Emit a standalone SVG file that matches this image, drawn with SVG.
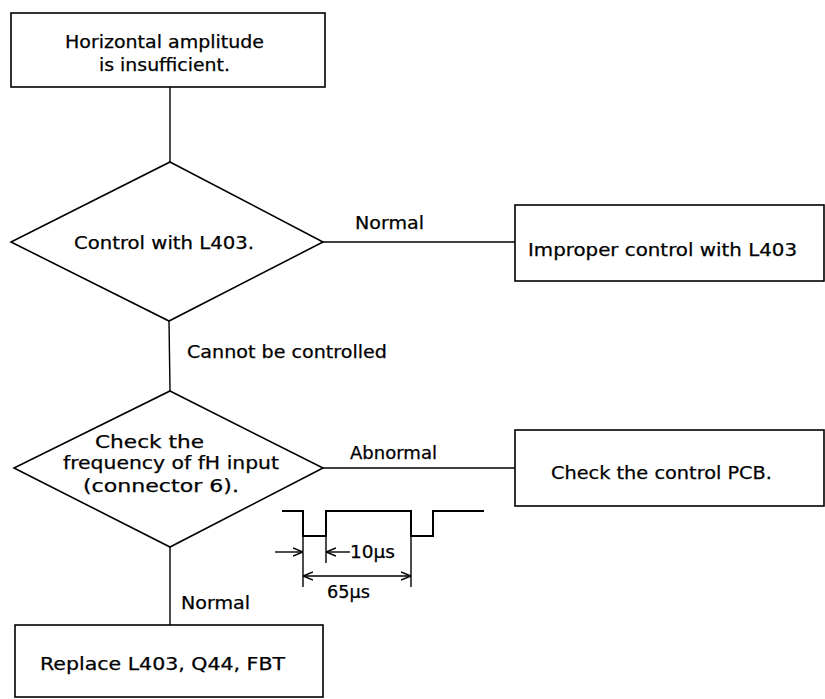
<svg xmlns="http://www.w3.org/2000/svg" width="825" height="699" viewBox="0 0 825 699">
<style>
.shape{fill:#fff;stroke:#000;stroke-width:1.6}
.ln{fill:none;stroke:#000;stroke-width:1.4}
.wv{fill:none;stroke:#000;stroke-width:2}
text{font-family:"DejaVu Sans","Liberation Sans",sans-serif;font-size:17px;fill:#000;stroke:#000;stroke-width:0.25}
</style>
<defs>
<marker id="ah" viewBox="0 0 10 10" refX="10" refY="5" markerWidth="10" markerHeight="10" markerUnits="userSpaceOnUse" orient="auto-start-reverse">
<path d="M0,1 L10,5 L0,9" fill="none" stroke="#000" stroke-width="1.4"/>
</marker>
</defs>
<rect width="825" height="699" fill="#fff"/>
<g id="connectors">
<line class="ln" x1="170" y1="87" x2="170" y2="162"/>
<line class="ln" x1="323" y1="242" x2="515" y2="242"/>
<line class="ln" x1="169" y1="321" x2="170" y2="391"/>
<line class="ln" x1="323" y1="468" x2="515" y2="468"/>
<line class="ln" x1="170" y1="547" x2="170" y2="625"/>
<text x="355" y="229" textLength="69" lengthAdjust="spacingAndGlyphs">Normal</text>
<text x="187" y="358" textLength="200" lengthAdjust="spacingAndGlyphs">Cannot be controlled</text>
<text x="350" y="459" textLength="87" lengthAdjust="spacingAndGlyphs">Abnormal</text>
<text x="181" y="609" textLength="69" lengthAdjust="spacingAndGlyphs">Normal</text>
</g>
<g id="start">
<rect class="shape" x="11" y="13" width="314" height="74"/>
<text x="65" y="48" textLength="199" lengthAdjust="spacingAndGlyphs">Horizontal amplitude</text>
<text x="99" y="71" textLength="131" lengthAdjust="spacingAndGlyphs">is insufficient.</text>
</g>
<g id="d1">
<polygon class="shape" points="170,162 323,242 169,321 11,242"/>
<text x="74" y="249" textLength="180" lengthAdjust="spacingAndGlyphs">Control with L403.</text>
</g>
<g id="improper">
<rect class="shape" x="515" y="205" width="309" height="76"/>
<text x="528" y="256" textLength="269" lengthAdjust="spacingAndGlyphs">Improper control with L403</text>
</g>
<g id="d2">
<polygon class="shape" points="170,391 323,468 170,547 14,468"/>
<text x="95" y="448" textLength="109" lengthAdjust="spacingAndGlyphs">Check the</text>
<text x="63" y="469" textLength="216" lengthAdjust="spacingAndGlyphs">frequency of fH input</text>
<text x="83" y="492" textLength="156" lengthAdjust="spacingAndGlyphs">(connector 6).</text>
</g>
<g id="pcb">
<rect class="shape" x="515" y="430" width="309" height="76"/>
<text x="551" y="479" textLength="221" lengthAdjust="spacingAndGlyphs">Check the control PCB.</text>
</g>
<g id="replace">
<rect class="shape" x="15" y="625" width="308" height="72"/>
<text x="40" y="670" textLength="245" lengthAdjust="spacingAndGlyphs">Replace L403, Q44, FBT</text>
</g>
<g id="waveform">
<polyline class="wv" points="282,511 303,511 303,536 326,536 326,511 411,511 411,536 433,536 433,511 484,511"/>
<line class="ln" x1="303" y1="536" x2="303" y2="587"/>
<line class="ln" x1="326" y1="536" x2="326" y2="563"/>
<line class="ln" x1="411" y1="536" x2="411" y2="587"/>
<line class="ln" x1="275" y1="552" x2="303" y2="552" marker-end="url(#ah)"/>
<line class="ln" x1="350" y1="552" x2="326" y2="552" marker-end="url(#ah)"/>
<line class="ln" x1="303" y1="576" x2="411" y2="576" marker-start="url(#ah)" marker-end="url(#ah)"/>
<text x="350" y="558" textLength="45" lengthAdjust="spacingAndGlyphs">10µs</text>
<text x="327" y="598" textLength="43" lengthAdjust="spacingAndGlyphs">65µs</text>
</g>
</svg>
